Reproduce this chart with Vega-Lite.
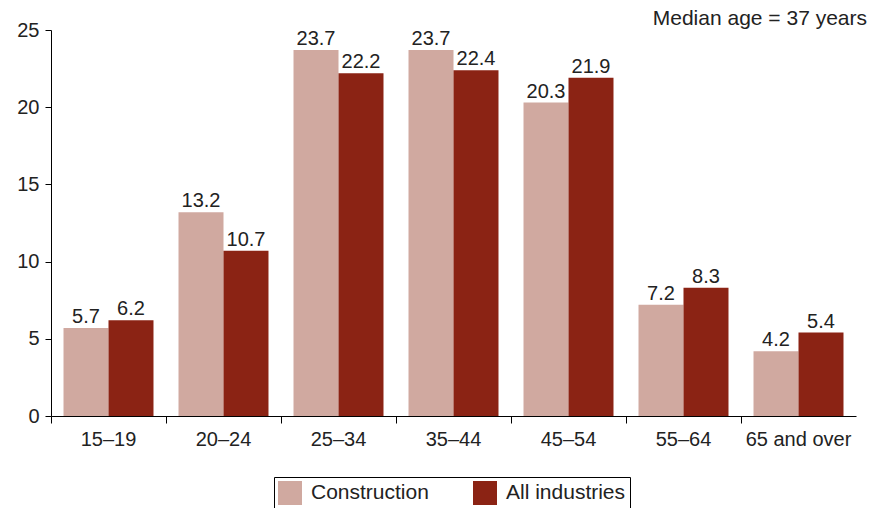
{
  "$schema": "https://vega.github.io/schema/vega-lite/v6.json",
  "width": 805,
  "height": 386,
  "autosize": {"type": "none"},
  "padding": {"left": 51, "top": 30, "right": 14, "bottom": 92},
  "background": "white",
  "title": {"text": "Median age = 37 years", "anchor": "end", "fontSize": 21, "fontWeight": "normal", "font": "Liberation Sans", "color": "#222", "dx": 11, "offset": 0, "baseline": "bottom", "dy": 30},
  "config": {"view": {"stroke": null}, "font": "Liberation Sans"},
  "data": {"values": [
    {"age": "15–19", "series": "Construction", "value": 5.7},
    {"age": "15–19", "series": "All industries", "value": 6.2},
    {"age": "20–24", "series": "Construction", "value": 13.2},
    {"age": "20–24", "series": "All industries", "value": 10.7},
    {"age": "25–34", "series": "Construction", "value": 23.7},
    {"age": "25–34", "series": "All industries", "value": 22.2},
    {"age": "35–44", "series": "Construction", "value": 23.7},
    {"age": "35–44", "series": "All industries", "value": 22.4},
    {"age": "45–54", "series": "Construction", "value": 20.3},
    {"age": "45–54", "series": "All industries", "value": 21.9},
    {"age": "55–64", "series": "Construction", "value": 7.2},
    {"age": "55–64", "series": "All industries", "value": 8.3},
    {"age": "65 and over", "series": "Construction", "value": 4.2},
    {"age": "65 and over", "series": "All industries", "value": 5.4}
  ]},
  "encoding": {
    "x": {"field": "age", "type": "nominal", "sort": null,
      "scale": {"paddingInner": 0, "paddingOuter": 0},
      "axis": {"title": null, "labelAngle": 0, "labelFontSize": 20, "labelColor": "#222", "domainColor": "#000", "tickColor": "#000", "tickSize": 7, "bandPosition": 0, "labelPadding": 6, "labelOffset": 0}},
    "xOffset": {"field": "series", "type": "nominal", "sort": ["Construction", "All industries"], "scale": {"paddingOuter": 0.278, "paddingInner": 0}},
    "y": {"field": "value", "type": "quantitative", "scale": {"domain": [0, 25]},
      "axis": {"title": null, "values": [0, 5, 10, 15, 20, 25], "grid": false, "labelFontSize": 20, "labelColor": "#222", "domainColor": "#000", "tickColor": "#000", "tickSize": 6, "labelPadding": 6}}
  },
  "layer": [
    {"mark": {"type": "bar"},
     "encoding": {"color": {"field": "series", "type": "nominal", "sort": ["Construction", "All industries"],
        "scale": {"domain": ["Construction", "All industries"], "range": ["#d0a9a0", "#8b2314"]},
        "legend": {"title": null, "orient": "none", "legendX": 223, "legendY": 447, "direction": "horizontal", "strokeColor": "#000", "fillColor": "white", "padding": 4, "symbolType": "square", "symbolSize": 576, "symbolStrokeWidth": 0, "symbolOpacity": 1, "labelFontSize": 21, "labelColor": "#222", "columnPadding": 44, "labelOffset": 9}}}},
    {"mark": {"type": "text", "baseline": "bottom", "dy": -1, "fontSize": 20, "color": "#222"},
     "encoding": {"text": {"field": "value", "type": "quantitative", "format": ".1f"}}}
  ]
}
